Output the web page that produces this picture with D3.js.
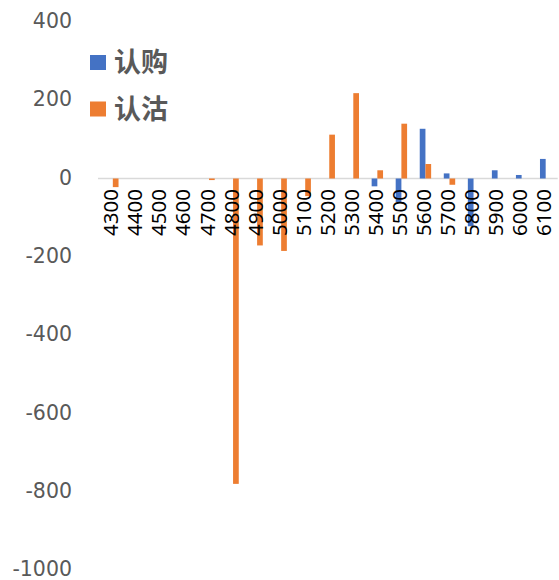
<!DOCTYPE html>
<html>
<head>
<meta charset="utf-8">
<script src="https://cdn.jsdelivr.net/npm/d3@7"></script>
<style>
  body { margin: 0; background: #fff; }
</style>
</head>
<body>
<svg width="559" height="580"></svg>
<script>
var strikes = ['4300', '4400', '4500', '4600', '4700', '4800', '4900', '5000', '5100', '5200',
  '5300', '5400', '5500', '5600', '5700', '5800', '5900', '6000', '6100'];
var seriesNames = ['认购', '认沽'];
var callValues = [0, 0, 0, 0, 0, 0, 0, 0, 0, 0, 0, -20, -60, 127, 13, -122, 21, 9, 50];
var putValues = [-22, 0, 0, 0, -4, -780, -171, -185, -45, 112, 218, 21, 140, 37, -16, 0, 0, 0, 0];
var yTicks = [400, 200, 0, -200, -400, -600, -800, -1000];
var colors = ['#4472C4', '#ED7D31'];

var svg = d3.select('svg');

// band per strike, two bars inside each band
var xScale = d3.scaleBand().domain(strikes).range([100.8, 557.7]);
var barWidth = 5.7;
var bw = xScale.bandwidth();
var xInner = d3.scaleBand().domain([0, 1]).range([bw / 2 - barWidth, bw / 2 + barWidth]);

var yScale = d3.scaleLinear().domain([-1000, 400]).range([570, 21.9]);

// y labels, no axis line
svg.append('g').selectAll('text').data(yTicks).enter().append('text')
  .attr('x', 72)
  .attr('y', function(d) { return yScale(d); })
  .attr('dy', '0.3em')
  .attr('text-anchor', 'end')
  .attr('fill', '#595959')
  .style('font-family', 'DejaVu Sans')
  .style('font-size', '20.5px')
  .text(function(d) { return d; });

// zero line
svg.append('line')
  .attr('x1', 98).attr('x2', 557.7)
  .attr('y1', yScale(0)).attr('y2', yScale(0))
  .attr('stroke', '#d9d9d9')
  .attr('stroke-width', 1.3);

// bars
[callValues, putValues].forEach(function(values, s) {
  svg.append('g').selectAll('rect').data(values).enter().append('rect')
    .attr('x', function(d, i) { return xScale(strikes[i]) + xInner(s); })
    .attr('width', xInner.bandwidth())
    .attr('y', function(d) { return Math.min(yScale(d), yScale(0)); })
    .attr('height', function(d) { return Math.abs(yScale(d) - yScale(0)); })
    .attr('fill', colors[s]);
});

// strike labels, rotated, drawn over bars
svg.append('g').selectAll('text').data(strikes).enter().append('text')
  .attr('transform', function(d) {
    var cx = xScale(d) + bw / 2;
    return 'translate(' + (cx + 5.5) + ',189) rotate(-90)';
  })
  .attr('text-anchor', 'end')
  .attr('fill', '#000')
  .style('font-family', 'Noto Sans')
  .style('font-size', '20.5px')
  .text(function(d) { return d; });

// legend
var legend = svg.append('g');
seriesNames.forEach(function(name, i) {
  var ly = 62.5 + i * 46.5;
  legend.append('rect')
    .attr('x', 90).attr('y', ly - 7.5)
    .attr('width', 16).attr('height', 15)
    .attr('fill', colors[i]);
  legend.append('text')
    .attr('x', 114).attr('y', ly)
    .attr('dy', '0.36em')
    .attr('fill', '#595959')
    .style('font-family', 'Noto Sans CJK SC')
    .style('font-weight', 'bold')
    .style('font-size', '27px')
    .text(name);
});
</script>
</body>
</html>
